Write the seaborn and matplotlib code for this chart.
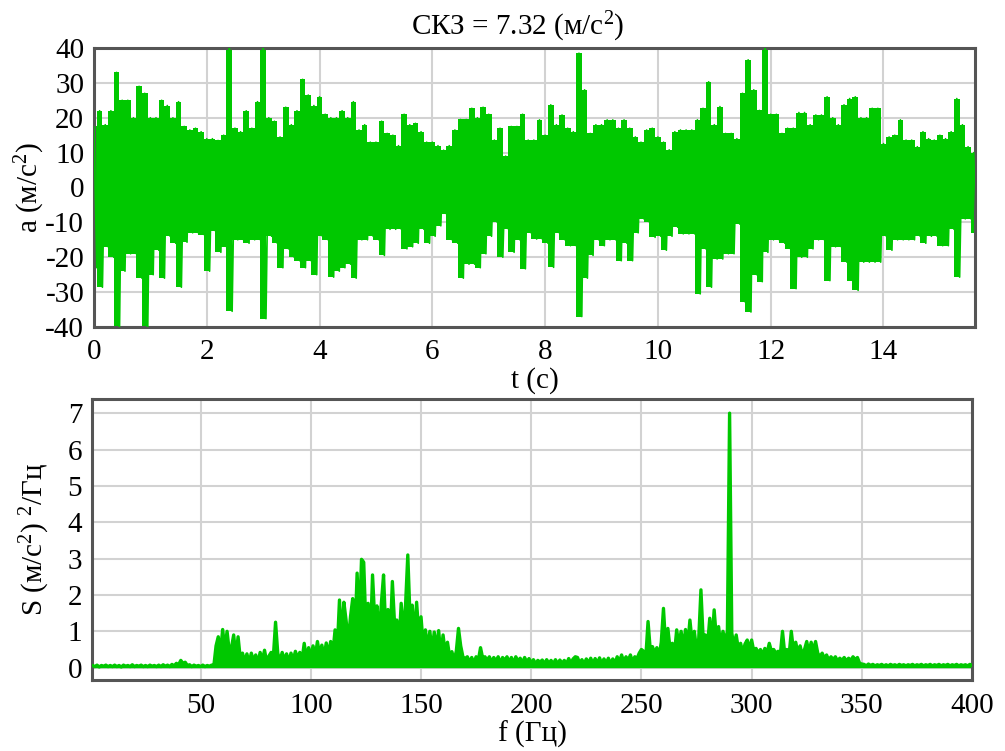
import numpy as np
import pandas as pd
import matplotlib
matplotlib.use("Agg")
import matplotlib.pyplot as plt
import seaborn as sns

# ---------------- data ----------------
# time signal: upper / lower envelope values read every 0.1 s (m/s^2)
time_s = np.round(np.arange(157) * 0.1, 2)
a_upper = [17.5, 22, 18, 22, 33, 25, 25, 20, 29, 27,
           20, 20, 25, 23.5, 20, 24.6, 17.5, 16.5, 17, 16,
           14, 14, 13.5, 15, 45, 17, 16, 22, 17, 24.6,
           45, 20, 19, 14.5, 23, 18, 22, 31, 26.5, 23.5,
           26, 21, 20, 20, 22, 20, 24.6, 16.5, 18, 13,
           13, 19, 15.5, 15, 12, 21, 18, 18.4, 16, 13,
           13, 12, 10.7, 12, 16.5, 19.5, 19.5, 22.7, 20, 23,
           21, 13.6, 17, 9, 17.5, 17.5, 21, 13.6, 13.6, 19.4,
           15, 23.7, 18, 20.8, 17, 16, 38.5, 28, 15.5, 18,
           18, 19.4, 19.4, 17, 19.4, 17, 14.5, 13, 16.5, 17,
           14.5, 13, 10.8, 16, 16.5, 16.5, 16.5, 19.4, 22.7, 30.3,
           18, 23.2, 15.5, 15.5, 14, 27, 36.6, 28, 22.1, 45,
           21, 21, 15.5, 17, 17, 21.5, 21.5, 18, 20.8, 20.8,
           26, 20, 18, 23.7, 25.5, 26, 20, 20, 22.7, 22.7,
           12.6, 14.5, 15, 19.4, 13.6, 13.6, 11.7, 16, 14, 13.6,
           15, 14, 16, 25.5, 18, 11.7, 10]
a_lower = [-23, -28.6, -17, -20, -45, -24, -19, -19, -26, -45,
           -25, -18, -26, -14, -16, -28.6, -15.7, -13, -13, -13.5,
           -24, -12.4, -18.6, -17, -35.5, -15, -15, -16, -15, -15,
           -37.6, -14, -16, -23, -17.6, -20, -21, -23, -21, -25,
           -14, -15, -25.7, -24, -23, -22, -26, -15, -15, -14,
           -15, -19.5, -12, -12, -12, -17.6, -17, -16, -12, -16,
           -14, -11, -7.6, -15, -16, -26, -22, -22, -23, -19,
           -14, -10, -20, -12, -18.6, -15, -23.3, -13, -14.8, -14.8,
           -16, -22.9, -13, -15, -16.7, -16.7, -37, -26, -19.5, -15,
           -16.7, -15, -15, -21, -16, -21, -13, -9, -10, -14.3,
           -14, -18, -14, -11.4, -13.3, -13.3, -13.3, -30.5, -17.6, -28.6,
           -20.5, -20.5, -19, -19, -10.5, -32.9, -35.7, -25, -27, -18.6,
           -15, -15, -16, -17.6, -29, -20, -20, -17.6, -15, -15,
           -26.7, -17, -17, -21.4, -26.7, -29.5, -21.4, -21.4, -21.4, -21.4,
           -14, -18, -15, -15, -15, -15, -14, -16, -14, -14,
           -16.7, -16.7, -12, -25.7, -9, -9, -13]

# spectrum, 1 Hz bins, (m/s^2)^2/Hz
freq_hz = np.arange(1, 401)
s_psd = [
    .06, .03, .07, .02, .06, .04, .07, .03, .06, .03,
    .07, .03, .06, .02, .07, .04, .06, .03, .08, .03,
    .06, .04, .07, .03, .06, .03, .07, .04, .06, .03,
    .07, .03, .08, .04, .07, .03, .09, .05, .12, .08,
    .20, .12, .15, .06, .08, .03, .07, .04, .06, .03,
    .07, .03, .06, .04, .07, .05, .60, .85, .40, 1.05,
    .50, 1.0, .45, .55, .90, .30, .85, .25, .40, .15,
    .38, .12, .40, .18, .35, .12, .42, .20, .48, .15,
    .32, .42, .30, 1.25, .40, .18, .42, .20, .38, .15,
    .40, .20, .45, .25, .42, .20, .67, .25, .55, .30,
    .60, .30, .72, .35, .62, .30, .68, .35, .72, .40,
    1.04, .50, 1.86, .80, 1.80, 1.30, .70, 1.40, 1.90, .80,
    2.60, 1.20, 2.98, 2.90, 1.10, 1.77, .70, 2.55, 1.30, 1.70,
    .90, 1.77, 2.55, 1.0, 1.60, .80, 2.37, 1.20, 1.31, .60,
    1.77, .90, 1.75, 3.10, 1.40, 1.72, .80, 1.80, .90, 1.40,
    .60, 1.04, .50, 1.0, .45, .98, .50, 1.02, .35, .90,
    .40, .70, .30, .44, .20, .45, 1.08, .60, .30, .25,
    .30, .15, .28, .12, .30, .20, .55, .25, .30, .20,
    .30, .15, .28, .18, .30, .12, .28, .20, .30, .15,
    .28, .12, .30, .18, .26, .12, .28, .15, .25, .12,
    .22, .10, .20, .15, .21, .10, .22, .12, .20, .10,
    .22, .10, .21, .12, .20, .10, .25, .12, .24, .30,
    .28, .12, .22, .10, .24, .12, .26, .10, .25, .12,
    .27, .10, .24, .12, .26, .10, .24, .12, .30, .15,
    .35, .15, .30, .20, .35, .15, .30, .25, .40, .50,
    .45, .30, 1.27, .50, .58, .40, .55, .30, .70, 1.63,
    .60, 1.08, .50, .67, .40, 1.04, .60, 1.0, .55, 1.05,
    .60, 1.31, .70, 1.0, .50, .80, 2.14, .80, .90, .60,
    1.36, .70, 1.59, .80, 1.13, .60, 1.0, .70, 1.0, 7.0,
    .95, .60, .90, .50, .67, .40, .65, .76, .50, .76,
    .45, .53, .40, .50, .35, .53, .40, .67, .45, .50,
    .40, .45, .35, 1.0, .40, .50, .35, 1.0, .45, .70,
    .40, .60, .35, .50, .72, .40, .70, .45, .72, .40,
    .30, .40, .25, .35, .20, .30, .22, .30, .18, .26,
    .20, .28, .18, .26, .20, .30, .22, .28, .12, .10,
    .09, .05, .10, .06, .09, .05, .08, .06, .09, .05,
    .08, .05, .09, .06, .08, .05, .09, .06, .08, .05,
    .08, .06, .09, .05, .08, .06, .09, .05, .08, .06,
    .09, .05, .08, .06, .09, .05, .08, .06, .09, .05,
    .08, .06, .09, .05, .08, .06, .08, .05, .09, .06,
]

title_text = "СКЗ = 7.32 (м/с$^2$)"
t_ticks = [0, 2, 4, 6, 8, 10, 12, 14]
a_ticks = [-40, -30, -20, -10, 0, 10, 20, 30, 40]
f_ticks = [50, 100, 150, 200, 250, 300, 350, 400]
s_ticks = [0, 1, 2, 3, 4, 5, 6, 7]

# ---------------- style ----------------
sns.set_theme(style="whitegrid")
plt.rcParams["font.family"] = ["Liberation Serif", "DejaVu Serif"]
plt.rcParams["mathtext.fontset"] = "custom"
plt.rcParams["mathtext.rm"] = "Liberation Serif"
plt.rcParams["mathtext.it"] = "Liberation Serif:italic"
plt.rcParams["axes.unicode_minus"] = False
plt.rcParams["text.color"] = "black"
plt.rcParams["axes.labelcolor"] = "black"
plt.rcParams["xtick.color"] = "black"
plt.rcParams["ytick.color"] = "black"

GREEN = "#00c800"
FS = 21

fig = plt.figure(figsize=(10.05, 7.51), dpi=100)
ax1 = fig.add_axes([0.0935, 0.5646, 0.8765, 0.3715])
ax2 = fig.add_axes([0.0915, 0.0945, 0.8757, 0.3742])

# signal: interleave upper and lower envelope samples
t_pts = np.empty(2 * len(time_s))
t_pts[0::2] = time_s
t_pts[1::2] = time_s + 0.05
a_pts = np.empty(2 * len(time_s))
a_pts[0::2] = a_upper
a_pts[1::2] = a_lower
df_sig = pd.DataFrame({"t": t_pts, "a": a_pts})
ax1.fill_between(time_s, a_lower, a_upper, step="mid", color=GREEN, lw=0, zorder=2)
sns.lineplot(data=df_sig, x="t", y="a", ax=ax1, color=GREEN, lw=1.2,
             estimator=None, sort=False, zorder=3)

df_spec = pd.DataFrame({"f": freq_hz, "S": s_psd})
ax2.fill_between(freq_hz, 0, s_psd, color=GREEN, lw=0, zorder=2)
sns.lineplot(data=df_spec, x="f", y="S", ax=ax2, color=GREEN, lw=2.4,
             estimator=None, sort=False, zorder=3)

ax1.set_xlim(0, 15.62)
ax1.set_ylim(-40, 40)
ax1.set_xticks(t_ticks)
ax1.set_yticks(a_ticks)
ax2.set_xlim(0.7, 400)
ax2.set_ylim(-0.34, 7.39)
ax2.set_xticks(f_ticks)
ax2.set_yticks(s_ticks)

for ax in (ax1, ax2):
    ax.set_facecolor("white")
    ax.grid(True, color="#d2d2d2", lw=1.5)
    ax.set_axisbelow(True)
    for sp in ax.spines.values():
        sp.set_visible(True)
        sp.set_color("#555555")
        sp.set_linewidth(2.2)
    ax.tick_params(axis="both", which="major", direction="out", length=4,
                   width=1.5, color="#333333", labelsize=FS, pad=3,
                   labelcolor="black")
    ax.tick_params(axis="x", pad=5)

ax1.set_title(title_text, fontsize=FS, x=0.481, y=1.075, va="center", pad=0,
              color="black")
ax1.set_xlabel("t (c)", fontsize=FS, va="center")
ax1.xaxis.set_label_coords(0.5, -0.1935)
ax1.set_ylabel("a (м/с$^2$)", fontsize=FS, va="center")
ax1.yaxis.set_label_coords(-0.0726, 0.5)

ax2.set_xlabel("f (Гц)", fontsize=FS, va="center")
ax2.xaxis.set_label_coords(0.5, -0.192)
ax2.set_ylabel("S (м/с$^2$) $^2$/Гц", fontsize=FS, va="center")
ax2.yaxis.set_label_coords(-0.0648, 0.5)

fig.savefig("out.png", dpi=100, facecolor="white")
